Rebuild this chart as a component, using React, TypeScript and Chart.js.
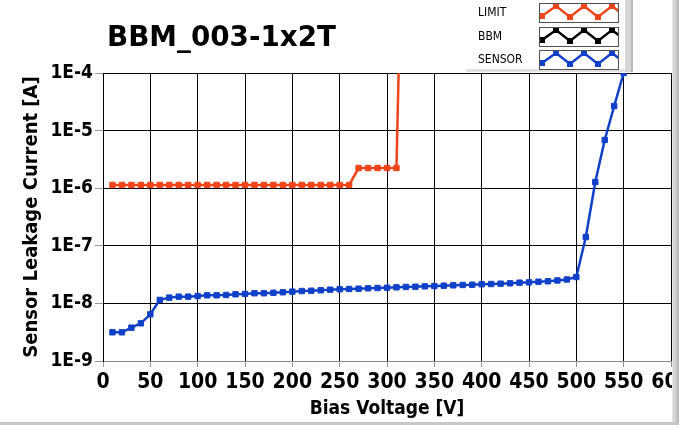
import React, { useEffect, useRef } from "react";
import { Chart, registerables } from "chart.js";

Chart.register(...registerables);

const TITLE = "BBM_003-1x2T";
const X_TITLE = "Bias Voltage [V]";
const Y_TITLE = "Sensor Leakage Current [A]";
const X_TICKS = [0, 50, 100, 150, 200, 250, 300, 350, 400, 450, 500, 550, 600];
const Y_EXPONENTS = [-9, -8, -7, -6, -5, -4];

const LIMIT_V = [10, 20, 30, 40, 50, 60, 70, 80, 90, 100, 110, 120, 130, 140, 150, 160, 170, 180, 190, 200, 210, 220, 230, 240, 250, 260, 270, 280, 290, 300, 310, 315];
const LIMIT_I = [1.14e-6, 1.14e-6, 1.14e-6, 1.14e-6, 1.14e-6, 1.14e-6, 1.14e-6, 1.14e-6, 1.14e-6, 1.14e-6, 1.14e-6, 1.14e-6, 1.14e-6, 1.14e-6, 1.14e-6, 1.14e-6, 1.14e-6, 1.14e-6, 1.14e-6, 1.14e-6, 1.14e-6, 1.14e-6, 1.14e-6, 1.14e-6, 1.14e-6, 1.14e-6, 2.24e-6, 2.24e-6, 2.24e-6, 2.24e-6, 2.24e-6, 1e-2];

const BBM_V: number[] = [];
const BBM_I: number[] = [];

const SENSOR_V = [10, 20, 30, 40, 50, 60, 70, 80, 90, 100, 110, 120, 130, 140, 150, 160, 170, 180, 190, 200, 210, 220, 230, 240, 250, 260, 270, 280, 290, 300, 310, 320, 330, 340, 350, 360, 370, 380, 390, 400, 410, 420, 430, 440, 450, 460, 470, 480, 490, 500, 510, 520, 530, 540, 550];
const SENSOR_I = [3.15e-9, 3.15e-9, 3.79e-9, 4.51e-9, 6.47e-9, 1.15e-8, 1.26e-8, 1.31e-8, 1.31e-8, 1.34e-8, 1.38e-8, 1.38e-8, 1.40e-8, 1.44e-8, 1.46e-8, 1.50e-8, 1.50e-8, 1.53e-8, 1.56e-8, 1.60e-8, 1.64e-8, 1.66e-8, 1.69e-8, 1.73e-8, 1.76e-8, 1.78e-8, 1.80e-8, 1.83e-8, 1.85e-8, 1.87e-8, 1.90e-8, 1.93e-8, 1.95e-8, 1.98e-8, 2.00e-8, 2.03e-8, 2.06e-8, 2.09e-8, 2.11e-8, 2.15e-8, 2.17e-8, 2.20e-8, 2.23e-8, 2.29e-8, 2.32e-8, 2.38e-8, 2.42e-8, 2.50e-8, 2.60e-8, 2.87e-8, 1.42e-7, 1.28e-6, 6.88e-6, 2.67e-5, 1.0e-4];

const LIMIT_COLOR = "#f0441a";
const BBM_COLOR = "#000000";
const SENSOR_COLOR = "#1040c8";

const FONT = "'DejaVu Sans Condensed', 'DejaVu Sans', sans-serif";

const toXY = (xs: number[], ys: number[]) => xs.map((x, i) => ({ x, y: ys[i] }));

const decorPlugin = {
  id: "decor",
  afterDraw(chart: any) {
    const ctx: CanvasRenderingContext2D = chart.ctx;
    // Title
    ctx.save();
    ctx.font = "bold 29px 'DejaVu Sans', sans-serif";
    const tw = ctx.measureText(TITLE).width;
    ctx.translate(107, 46);
    ctx.scale(229 / tw, 1);
    ctx.fillStyle = "#000";
    ctx.textBaseline = "alphabetic";
    ctx.textAlign = "left";
    ctx.fillText(TITLE, 0, 0);
    ctx.restore();

    // Legend panel
    ctx.save();
    ctx.fillStyle = "#ffffff";
    ctx.fillRect(466, 0, 160, 69);
    ctx.fillStyle = "#e2e2e2";
    ctx.fillRect(466, 69, 167, 3);
    ctx.fillStyle = "#d6d6d6";
    ctx.fillRect(625, 0, 8, 72);
    ctx.fillStyle = "#b8b8b8";
    ctx.fillRect(631, 0, 2, 72);
    const rowsY = [3, 27, 50];
    const bx = 539, bw = 79, bh = 19;
    chart.data.datasets.forEach((ds: any, i: number) => {
      const by = rowsY[i];
      ctx.fillStyle = "#000";
      ctx.font = "12px 'DejaVu Sans Condensed', 'DejaVu Sans', sans-serif";
      ctx.textBaseline = "middle";
      ctx.textAlign = "left";
      ctx.fillText(ds.label, 478, by + 9.5);
      ctx.fillStyle = "#fff";
      ctx.fillRect(bx, by, bw, bh);
      ctx.strokeStyle = "#505050";
      ctx.lineWidth = 1;
      ctx.strokeRect(bx + 0.5, by + 0.5, bw, bh);
      ctx.save();
      ctx.beginPath();
      ctx.rect(bx + 1, by + 1, bw - 1, bh - 1);
      ctx.clip();
      const pts = [[3, 13], [17, 3], [31, 14], [45, 3], [59, 14], [73, 3], [87, 14]];
      ctx.strokeStyle = ds.borderColor;
      ctx.lineWidth = 2.5;
      ctx.beginPath();
      pts.forEach(([px, py], k) => {
        if (k === 0) ctx.moveTo(bx + px, by + py);
        else ctx.lineTo(bx + px, by + py);
      });
      ctx.stroke();
      ctx.fillStyle = ds.borderColor;
      pts.forEach(([px, py]) => ctx.fillRect(bx + px - 3, by + py - 3, 6, 6));
      ctx.restore();
    });
    // Right and bottom frame strips
    const g = ctx.createLinearGradient(672, 0, 679, 0);
    g.addColorStop(0, "#e6e6e6");
    g.addColorStop(1, "#b4b4b4");
    ctx.fillStyle = g;
    ctx.fillRect(672, 0, 7, 425);
    ctx.fillStyle = "#c8c8c8";
    ctx.fillRect(0, 422, 679, 3);
    ctx.restore();
  },
};

export default function App() {
  const ref = useRef<HTMLCanvasElement | null>(null);
  useEffect(() => {
    if (!ref.current) return;
    const lineDs = (label: string, color: string, data: any[]) => ({
      label,
      data,
      borderColor: color,
      backgroundColor: color,
      borderWidth: 2.5,
      pointStyle: "rect",
      pointRadius: 3.8,
      pointBorderWidth: 1,
      pointBorderColor: color,
      pointBackgroundColor: color,
      tension: 0,
      fill: false,
    });
    const chart = new Chart(ref.current, {
      type: "line",
      data: {
        datasets: [
          lineDs("LIMIT", LIMIT_COLOR, toXY(LIMIT_V, LIMIT_I)),
          lineDs("BBM", BBM_COLOR, toXY(BBM_V, BBM_I)),
          lineDs("SENSOR", SENSOR_COLOR, toXY(SENSOR_V, SENSOR_I)),
        ] as any,
      },
      options: {
        animation: false,
        responsive: false,
        events: [],
        layout: { padding: { top: 73, right: 8, left: 0, bottom: 0 } },
        plugins: {
          legend: { display: false },
          title: { display: false },
          tooltip: { enabled: false },
        },
        scales: {
          x: {
            type: "linear",
            min: 0,
            max: 600,
            afterBuildTicks: (s: any) => {
              s.ticks = X_TICKS.map((v) => ({ value: v }));
            },
            afterFit: (s: any) => {
              s.height = 64;
              s.paddingLeft = 0;
              s.paddingRight = 0;
            },
            ticks: {
              color: "#000",
              font: { family: FONT, size: 21, weight: "bold" },
              padding: 3,
              maxRotation: 0,
              autoSkip: false,
            },
            grid: { color: "#000", lineWidth: 1, tickLength: 6, tickColor: "#999" },
            border: { color: "#888" },
            title: {
              display: true,
              text: X_TITLE,
              color: "#000",
              font: { family: FONT, size: 19, weight: "bold" },
              padding: { top: 0, bottom: 5 },
            },
          },
          y: {
            type: "logarithmic",
            min: 1e-9,
            max: 1e-4,
            afterBuildTicks: (s: any) => {
              s.ticks = Y_EXPONENTS.map((e) => ({ value: Number("1e" + e) }));
            },
            afterFit: (s: any) => {
              s.width = 103;
              s.paddingTop = 0;
              s.paddingBottom = 0;
            },
            ticks: {
              color: "#000",
              font: { family: FONT, size: 19, weight: "bold" },
              padding: 2,
              autoSkip: false,
              callback: (v: any) => "1E" + Math.round(Math.log10(Number(v))),
            },
            grid: { color: "#000", lineWidth: 1, tickLength: 8, tickColor: "#999" },
            border: { color: "#000" },
            title: {
              display: true,
              text: Y_TITLE,
              color: "#000",
              font: { family: FONT, size: 20, weight: "bold" },
              padding: { top: 20, bottom: 0 },
            },
          },
        },
      } as any,
      plugins: [decorPlugin],
    });
    return () => chart.destroy();
  }, []);
  return (
    <div style={{ position: "fixed", left: 0, top: 0, width: 679, height: 425, background: "#fff" }}>
      <canvas ref={ref} width={679} height={425} style={{ display: "block" }} />
    </div>
  );
}
